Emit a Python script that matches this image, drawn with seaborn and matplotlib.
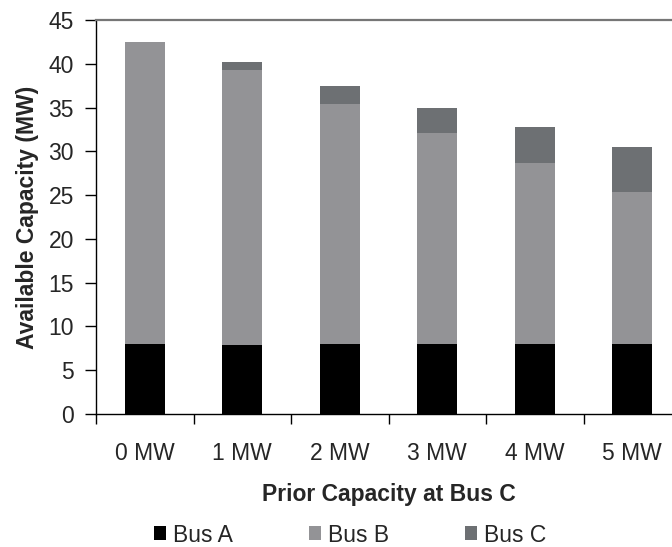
import matplotlib.pyplot as plt
import seaborn as sns
import numpy as np
import pandas as pd
from matplotlib.patches import Patch
from matplotlib.ticker import FixedLocator

categories = ["0 MW", "1 MW", "2 MW", "3 MW", "4 MW", "5 MW"]
bus_a = [8.0, 7.9, 8.0, 8.0, 8.0, 8.0]
bus_b = [34.5, 31.4, 27.4, 24.1, 20.7, 17.4]
bus_c = [0.0, 0.9, 2.1, 2.9, 4.1, 5.1]

colors = {"Bus A": "#000000", "Bus B": "#939396", "Bus C": "#6d7073"}


def build_frame():
    df = pd.DataFrame({"cat": categories, "Bus A": bus_a, "Bus B": bus_b, "Bus C": bus_c})
    df["top_a"] = df["Bus A"]
    df["top_b"] = df["top_a"] + df["Bus B"]
    df["top_c"] = df["top_b"] + df["Bus C"]
    return df


def draw(df, save_path="out.png"):
    sns.set_style("white")
    plt.rcParams["font.family"] = ["Liberation Sans", "DejaVu Sans"]
    fs = 16.5

    fig = plt.figure(figsize=(6.72, 5.47), dpi=100)
    # right edge of the plot box runs past the picture, as in the reference
    ax = fig.add_axes([96 / 672, 1 - 414 / 547, 585 / 672, 394 / 547])

    # draw cumulative totals from the top down so they read as stacks
    for col, name in [("top_c", "Bus C"), ("top_b", "Bus B"), ("top_a", "Bus A")]:
        sns.barplot(data=df, x="cat", y=col, color=colors[name], saturation=1,
                    width=0.41, linewidth=0, errorbar=None, ax=ax)

    ax.set_ylim(0, 45)
    ax.set_xlim(-0.5, 5.5)
    ax.set_yticks(np.arange(0, 46, 5))
    ax.tick_params(axis="y", direction="out", length=8, width=1, color="black",
                   labelsize=fs, pad=8, left=True)
    ax.tick_params(axis="x", which="major", length=0, labelsize=fs, pad=20)
    ax.xaxis.set_minor_locator(FixedLocator(np.arange(-0.5, 6, 1.0)))
    ax.tick_params(axis="x", which="minor", direction="out", length=7, width=1,
                   color="black", bottom=True)

    ax.set_xlabel("Prior Capacity at Bus C", fontsize=fs, fontweight="bold", labelpad=13)
    ax.set_ylabel("Available Capacity (MW)", fontsize=fs, fontweight="bold", labelpad=7)

    for side in ["left", "bottom"]:
        ax.spines[side].set_color("black")
        ax.spines[side].set_linewidth(1)
    for side in ["top", "right"]:
        ax.spines[side].set_color("#767676")
        ax.spines[side].set_linewidth(1.6)

    handles = [Patch(facecolor=colors[n], edgecolor="none", label=n) for n in ["Bus A", "Bus B", "Bus C"]]
    fig.legend(handles=handles, loc="center", bbox_to_anchor=(350 / 672, 1 - 535 / 547),
               ncol=3, frameon=False, fontsize=fs, handlelength=0.55, handleheight=0.55,
               handletextpad=0.3, columnspacing=3.3, borderpad=0)

    fig.savefig(save_path, dpi=100)


if __name__ == "__main__":
    draw(build_frame())
